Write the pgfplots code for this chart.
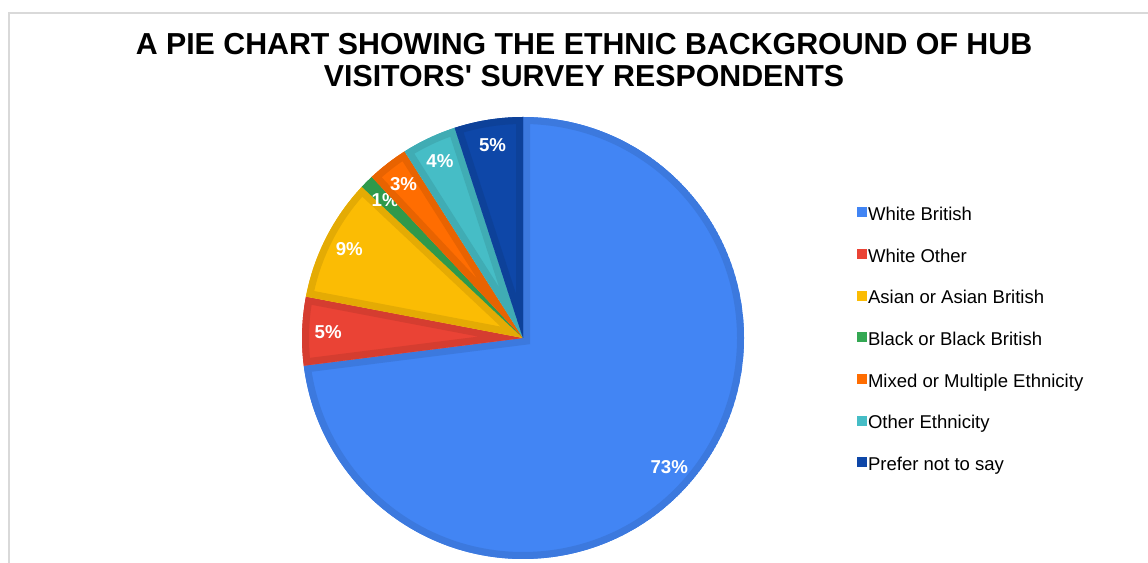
\documentclass[border=0pt]{standalone}
\usepackage{pgfplots}
\pgfplotsset{compat=1.18}
\usepackage{fontspec}
\setmainfont{Liberation Sans}

% Google Sheets palette
\definecolor{cWB}{HTML}{4285F4}
\definecolor{cWO}{HTML}{EA4335}
\definecolor{cAS}{HTML}{FBBC04}
\definecolor{cBL}{HTML}{34A853}
\definecolor{cMX}{HTML}{FF6D01}
\definecolor{cOT}{HTML}{46BDC6}
\definecolor{cPN}{HTML}{0E47A8}
\definecolor{frame}{HTML}{D9D9D9}

% 1 px of the reference = 0.75pt
\tikzset{
  lab/.style={text=white, font=\fontsize{14pt}{14pt}\selectfont\bfseries, inner sep=0pt},
  ttl/.style={anchor=base, inner sep=0pt, font=\fontsize{22.75pt}{22.75pt}\selectfont\bfseries},
}

\begin{document}
\begin{tikzpicture}
\useasboundingbox (0,0) rectangle (861pt,422.25pt);
\clip (0,0) rectangle (861pt,422.25pt);

\begin{axis}[
    hide axis,
    x=0.75pt, y=0.75pt,
    xmin=0, xmax=1148, ymin=0, ymax=563,
    anchor=origin, at={(0,0)},
    clip=false,
    legend cell align=left,
    legend image code/.code={\fill[#1, draw=none] (0pt,-1.1pt) rectangle (7.5pt,6.4pt);},
    legend style={
        at={(axis cs:856.7,356)}, anchor=north west,
        draw=none, fill=none, inner sep=0pt,
        font=\fontsize{13.9pt}{13.9pt}\selectfont,
        row sep=18.25pt, column sep=0.8pt,
        nodes={inner sep=0pt, text height=10pt, text depth=3pt},
    },
]

% slices: percent / colour, clockwise from 12 o'clock
\gdef\cum{0}
\foreach \v/\c in {73/cWB, 5/cWO, 9/cAS, 1/cBL, 3/cMX, 4/cOT, 5/cPN}{
    \pgfmathsetmacro\aS{90-3.6*\cum}
    \pgfmathsetmacro\aE{90-3.6*(\cum+\v)}
    \pgfmathsetmacro\aM{(\aS+\aE)/2}
    \edef\temp{%
      \noexpand\begin{scope}
      \noexpand\clip (axis cs:523,225) -- ++(\aS:165.75pt)
          arc[start angle=\aS, end angle=\aE, radius=165.75pt] -- cycle;
      \noexpand\fill[\c] (axis cs:523,225) -- ++(\aS:165.75pt)
          arc[start angle=\aS, end angle=\aE, radius=165.75pt] -- cycle;
      \noexpand\draw[\c!91!black, line width=10.5pt] (axis cs:523,225) -- ++(\aS:165.75pt)
          arc[start angle=\aS, end angle=\aE, radius=165.75pt] -- cycle;
      \noexpand\end{scope}
      \noexpand\path (axis cs:523,225) ++(\aM:146.25pt) node[lab] {\v\noexpand\%};
    }
    \temp
    \pgfmathsetmacro\newcum{\cum+\v}
    \xdef\cum{\newcum}
}

\addlegendimage{fill=cWB}\addlegendentry{White British}
\addlegendimage{fill=cWO}\addlegendentry{White Other}
\addlegendimage{fill=cAS}\addlegendentry{Asian or Asian British}
\addlegendimage{fill=cBL}\addlegendentry{Black or Black British}
\addlegendimage{fill=cMX}\addlegendentry{Mixed or Multiple Ethnicity}
\addlegendimage{fill=cOT}\addlegendentry{Other Ethnicity}
\addlegendimage{fill=cPN}\addlegendentry{Prefer not to say}

\node[ttl] at (axis cs:584,508.7) {A PIE CHART SHOWING THE ETHNIC BACKGROUND OF HUB};
\node[ttl] at (axis cs:584,476.3) {VISITORS\textquotesingle\ SURVEY RESPONDENTS};
\end{axis}

\draw[frame, line width=1.5pt] (7pt,0) -- (7pt,412.5pt) -- (862pt,412.5pt);
\end{tikzpicture}
\end{document}
